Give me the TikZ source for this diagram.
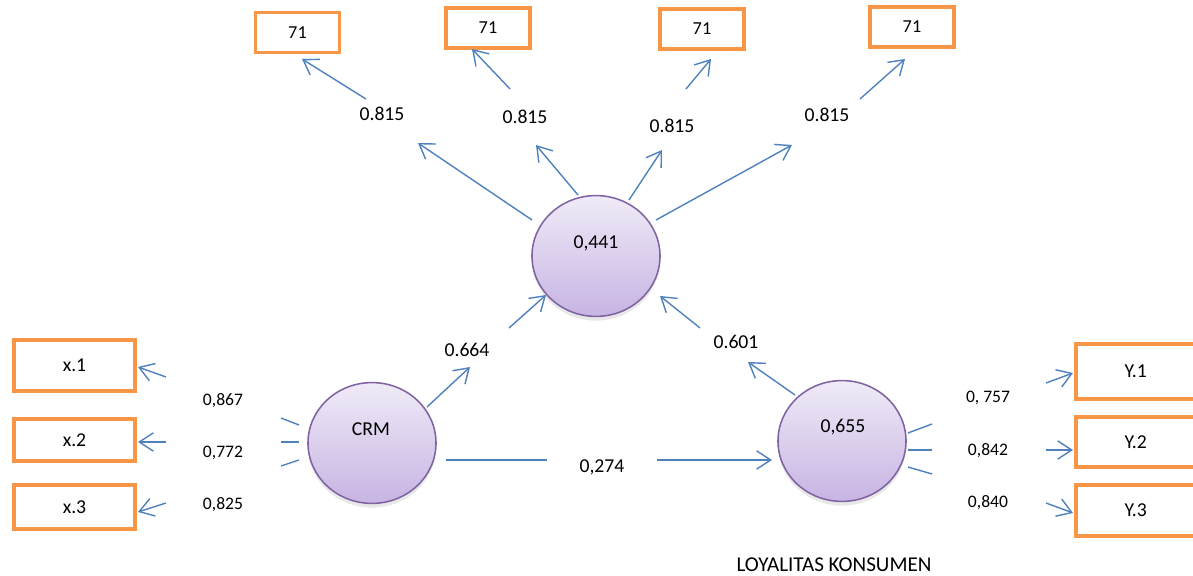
\documentclass[tikz,border=0pt]{standalone}
\usepackage{fontspec}
\setmainfont{Carlito}
\usetikzlibrary{arrows.meta,calc,shapes.geometric,shadows}
\definecolor{myorange}{rgb}{0.96900,0.58800,0.27500}
\definecolor{myblue}{rgb}{0.31000,0.50600,0.74100}
\definecolor{mypurple}{rgb}{0.50200,0.39200,0.63500}
\definecolor{mylilac1}{rgb}{0.94000,0.92000,0.97000}
\definecolor{mylilac2}{rgb}{0.78000,0.70600,0.89000}

\tikzset{
  indbox/.style={draw=myorange, line width=2.8pt, fill=white, inner sep=0pt,
    font=\fontsize{14}{16}\selectfont},
  topbox/.style={indbox, minimum width=2.1cm, minimum height=1cm,
    font=\fontsize{13}{15}\selectfont},
  latent/.style={ellipse, draw=mypurple, line width=1.1pt, top color=mylilac1,
    bottom color=mylilac2, minimum width=3.2cm, minimum height=3.02cm, inner sep=0pt,
    drop shadow={shadow xshift=0pt, shadow yshift=-3pt, opacity=0.18}},
  load/.style={myblue, line width=1pt, -{Straight Barb[length=10pt,width=13pt]}},
  tick/.style={myblue, line width=1pt},
  num/.style={font=\fontsize{14}{16}\selectfont},
  sidenum/.style={font=\fontsize{12.5}{15}\selectfont}
}

\begin{document}
\begin{tikzpicture}[x=0.025cm, y=-0.025cm]
\useasboundingbox (0,0) rectangle (1193,576);

\node[topbox] (b1) at (297.5,32.5) {71};
\node[topbox] (b2) at (488,28) {71};
\node[topbox] (b3) at (702,29) {71};
\node[topbox] (b4) at (912,27) {71};

\node[indbox, minimum width=3.025cm, minimum height=1.275cm] (x1) at (74.5,365.5) {x.1};
\node[indbox, minimum width=3.025cm, minimum height=1.05cm] (x2) at (74.5,440) {x.2};
\node[indbox, minimum width=3.025cm, minimum height=1.1cm] (x3) at (74.5,507) {x.3};
\node[indbox, minimum width=3.225cm, minimum height=1.375cm, text width=2.9cm, align=left] (y1) at (1140.5,371.5) {\hspace{1.05cm}Y.1};
\node[indbox, minimum width=3.225cm, minimum height=1.25cm, text width=2.9cm, align=left] (y2) at (1140.5,442) {\hspace{1.05cm}Y.2};
\node[indbox, minimum width=3.225cm, minimum height=1.275cm, text width=2.9cm, align=left] (y3) at (1140.5,510.5) {\hspace{1.05cm}Y.3};

\node[latent] (kep) at (596,256) {};
\node[latent] (crm) at (372,443) {};
\node[latent] (loy) at (842,441) {};
\node[num] at (596,243) {0,441};
\node[num] at (371,429) {CRM};
\node[num] at (843,427) {0,655};

\coordinate (t1) at (366,99);   \coordinate (t1e) at (302,59);
\coordinate (t2) at (510,89);   \coordinate (t2e) at (472,49);
\coordinate (t3) at (686,89);   \coordinate (t3e) at (711,59);
\coordinate (t4) at (860,99);   \coordinate (t4e) at (905,59);
\coordinate (u1) at (532,220);  \coordinate (u1e) at (418,143);
\coordinate (u2) at (578,195);  \coordinate (u2e) at (536,145);
\coordinate (u3) at (629,200);  \coordinate (u3e) at (662,150);
\coordinate (u4) at (656,220);  \coordinate (u4e) at (792,145);
\coordinate (c1) at (427,407);  \coordinate (c1e) at (470,367);
\coordinate (c2) at (509,328);  \coordinate (c2e) at (546,295);
\coordinate (p1) at (795,395);  \coordinate (p1e) at (748,362);
\coordinate (p2) at (700,328);  \coordinate (p2e) at (660,296);
\coordinate (h1) at (446,460);  \coordinate (h1e) at (547,460);
\coordinate (h2) at (657,460);  \coordinate (h2e) at (772,460);
\coordinate (l1) at (166,377);
\coordinate (l2) at (166,442);
\coordinate (l3) at (166,503);
\coordinate (r1) at (1046,383);
\coordinate (r2) at (1046,450);
\coordinate (r3) at (1046,503);

\draw[load] (t1) -- (t1e);
\draw[load] (t2) -- (t2e);
\draw[load] (t3) -- (t3e);
\draw[load] (t4) -- (t4e);
\draw[load] (u1) -- (u1e);
\draw[load] (u2) -- (u2e);
\draw[load] (u3) -- (u3e);
\draw[load] (u4) -- (u4e);
\draw[load] (c1) -- (c1e);
\draw[load] (c2) -- (c2e);
\draw[load] (p1) -- (p1e);
\draw[load] (p2) -- (p2e);
\draw[tick] (h1) -- (h1e);
\draw[load] (h2) -- (h2e);
\draw[load] (l1) -- ($(x1.east)+(1,1.5)$);
\draw[load] (l2) -- ($(x2.east)+(1,2)$);
\draw[load] (l3) -- ($(x3.east)+(1,5)$);
\draw[load] (r1) -- ($(y1.west)+(-1,1.5)$);
\draw[load] (r2) -- ($(y2.west)+(-1,8)$);
\draw[load] (r3) -- ($(y3.west)+(-1,2.5)$);

\draw[tick] (281,418) -- (299,425);
\draw[tick] (281,442) -- (299,442);
\draw[tick] (281,466) -- (299,460);
\draw[tick] (908,433) -- (932,424);
\draw[tick] (908,450) -- (932,450);
\draw[tick] (908,467) -- (932,474);

\node[num] at (382,114) {0.815};
\node[num] at (525,117) {0.815};
\node[num] at (672,126) {0.815};
\node[num] at (827,115) {0.815};
\node[num] at (467,350) {0.664};
\node[num] at (736,342) {0.601};
\node[num] at (602,467) {0,274};
\node[sidenum] at (223,401) {0,867};
\node[sidenum] at (223,453) {0,772};
\node[sidenum] at (223,505) {0,825};
\node[sidenum] at (988,398) {0, 757};
\node[sidenum] at (988,451) {0,842};
\node[sidenum] at (988,503) {0,840};
\node[font=\fontsize{15}{17}\selectfont] at (834,565) {LOYALITAS KONSUMEN};
\end{tikzpicture}
\end{document}
